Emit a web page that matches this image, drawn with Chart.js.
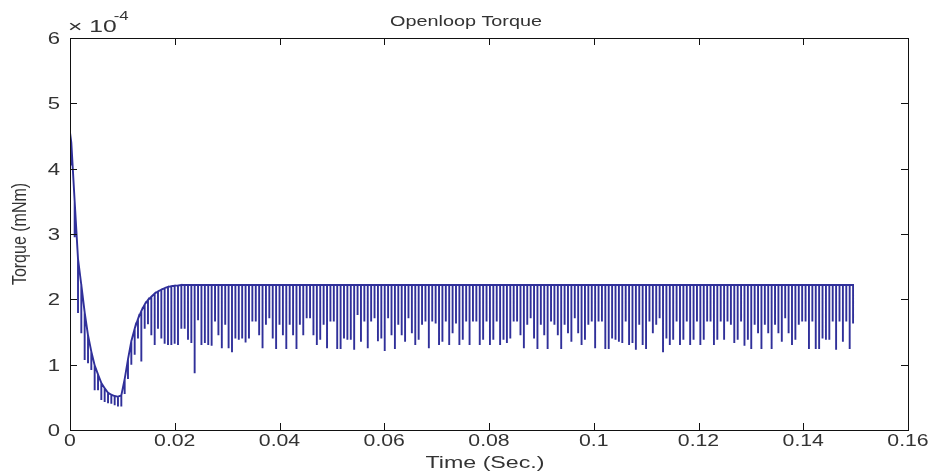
<!DOCTYPE html>
<html>
<head>
<meta charset="utf-8">
<script src="https://cdn.jsdelivr.net/npm/chart.js@4/dist/chart.umd.min.js"></script>
<style>
  html, body { margin: 0; padding: 0; background: #fff; }
</style>
</head>
<body>
<canvas id="torqueChart" width="932" height="473"></canvas>
<script>
// axis ticks
const timeTicks = [0, 0.02, 0.04, 0.06, 0.08, 0.1, 0.12, 0.14, 0.16];
const torqueTicks = [0, 1, 2, 3, 4, 5, 6];

// torque in units of 1e-4 mNm
const startTorque = 4.55;

// start-up transient: switching instants, value before the switch, value at the dip
const transientTime = [0.00025, 0.00089, 0.00153, 0.00216, 0.00280, 0.00344, 0.00407, 0.00471,
  0.00535, 0.00598, 0.00662, 0.00726, 0.00789, 0.00853, 0.00916, 0.00980, 0.01044, 0.01107,
  0.01171, 0.01235, 0.01298, 0.01362, 0.01426, 0.01489, 0.01553, 0.01617, 0.01680, 0.01744,
  0.01807, 0.01871, 0.01935, 0.01998, 0.02062, 0.02126, 0.02189, 0.02253, 0.02317, 0.02380];
const transientTop = [4.40, 3.50, 2.62, 2.22, 1.80, 1.45, 1.20, 0.99, 0.85, 0.72, 0.64, 0.57,
  0.54, 0.52, 0.51, 0.53, 0.78, 1.08, 1.36, 1.55, 1.70, 1.82, 1.92, 1.99, 2.04, 2.09, 2.12,
  2.15, 2.17, 2.19, 2.20, 2.21, 2.21, 2.22, 2.22, 2.22, 2.22, 2.22];
const transientLow = [4.05, 2.95, 1.79, 1.48, 1.07, 1.02, 0.92, 0.61, 0.61, 0.46, 0.43, 0.41,
  0.40, 0.38, 0.36, 0.36, 0.55, 0.78, 1.00, 1.15, 1.40, 1.05, 1.55, 1.62, 1.45, 1.30, 1.55,
  1.40, 1.32, 1.30, 1.30, 1.32, 1.30, 1.55, 1.55, 1.38, 1.33, 0.87];

// steady state: one dip per switching period
const steadyStart = 0.02445;
const pwmPeriod = 0.000648;
const steadyTop = 2.22;
const steadyLow = [
  1.68, 1.30, 1.33, 1.30, 1.29, 1.66, 1.45, 1.25, 1.61, 1.25, 1.19, 1.40, 1.38, 1.40, 1.34, 1.40,
  1.66, 1.66, 1.45, 1.25, 1.61, 1.71, 1.40, 1.24, 1.61, 1.45, 1.24, 1.61, 1.45, 1.24, 1.61, 1.45,
  1.71, 1.71, 1.45, 1.30, 1.38, 1.61,
  1.25, 1.66, 1.66, 1.24, 1.24, 1.40, 1.38, 1.38, 1.23, 1.76, 1.35, 1.66, 1.25, 1.66, 1.71, 1.36,
  1.40, 1.21, 1.71, 1.45, 1.24, 1.61, 1.45, 1.35, 1.71, 1.48, 1.30, 1.38, 1.61, 1.66, 1.25, 1.66,
  1.63, 1.30, 1.35, 1.66, 1.30, 1.48,
  1.63, 1.30, 1.38, 1.66, 1.30, 1.66, 1.66, 1.30, 1.38, 1.66, 1.30, 1.38, 1.66, 1.30, 1.38, 1.33,
  1.40, 1.66, 1.66, 1.45, 1.25, 1.61, 1.71, 1.40, 1.24, 1.61, 1.45, 1.24, 1.66, 1.61, 1.45, 1.24,
  1.61, 1.48, 1.35, 1.71, 1.48, 1.30, 1.38, 1.61,
  1.66, 1.25, 1.66, 1.66, 1.24, 1.24, 1.40, 1.38, 1.35, 1.33, 1.66, 1.30, 1.33, 1.23, 1.61, 1.30,
  1.24, 1.66, 1.48, 1.61, 1.71, 1.19, 1.40, 1.30, 1.38, 1.66, 1.30, 1.38, 1.66, 1.30, 1.38, 1.66,
  1.30, 1.38, 1.66, 1.66, 1.30, 1.38, 1.66,
  1.38, 1.66, 1.61, 1.33, 1.38, 1.66, 1.29, 1.38, 1.24, 1.61, 1.48, 1.24, 1.61, 1.48, 1.24, 1.61,
  1.48, 1.35, 1.71, 1.48, 1.30, 1.38, 1.61, 1.66, 1.66, 1.24, 1.66, 1.24, 1.24, 1.40, 1.38, 1.38,
  1.66, 1.23, 1.66, 1.35, 1.66, 1.24, 1.63
];

// build the trace: each switching event is a vertical drop and return
const points = [{ x: 0, y: startTorque }];
transientTime.forEach((t, i) => {
  points.push({ x: t, y: transientTop[i] }, { x: t, y: transientLow[i] }, { x: t, y: transientTop[i] });
});
steadyLow.forEach((low, i) => {
  const t = steadyStart + i * pwmPeriod;
  points.push({ x: t, y: steadyTop }, { x: t, y: low }, { x: t, y: steadyTop });
});

const FONT = '"Liberation Sans", Arial, Helvetica, sans-serif';
const TEXT_COLOR = '#333';

// the source figure is stretched sideways, so text gets a horizontal scale
function wideText(ctx, text, x, y, align, size, sx) {
  ctx.save();
  ctx.font = size + 'px ' + FONT;
  ctx.fillStyle = TEXT_COLOR;
  ctx.translate(x, y);
  ctx.scale(sx, 1);
  ctx.textAlign = align;
  ctx.textBaseline = 'alphabetic';
  ctx.fillText(text, 0, 0);
  const w = ctx.measureText(text).width * sx;
  ctx.restore();
  return w;
}

function timeLabel(v) {
  return v === 0 ? '0' : String(+v.toFixed(2));
}

const matlabAxes = {
  id: 'matlabAxes',
  afterDraw(chart) {
    const { ctx, chartArea: a, scales: { x, y } } = chart;
    const tickLen = 7;
    ctx.save();
    ctx.strokeStyle = '#111';
    ctx.lineWidth = 1;
    ctx.strokeRect(Math.round(a.left) + 0.5, Math.round(a.top) + 0.5,
      Math.round(a.right - a.left), Math.round(a.bottom - a.top));
    ctx.beginPath();
    x.ticks.forEach(tk => {
      const px = Math.round(x.getPixelForValue(tk.value)) + 0.5;
      ctx.moveTo(px, a.bottom); ctx.lineTo(px, a.bottom - tickLen);
      ctx.moveTo(px, a.top); ctx.lineTo(px, a.top + tickLen);
    });
    y.ticks.forEach(tk => {
      const py = Math.round(y.getPixelForValue(tk.value)) + 0.5;
      ctx.moveTo(a.left, py); ctx.lineTo(a.left + tickLen, py);
      ctx.moveTo(a.right, py); ctx.lineTo(a.right - tickLen, py);
    });
    ctx.stroke();
    ctx.restore();

    // tick labels
    x.ticks.forEach(tk => {
      wideText(ctx, timeLabel(tk.value), x.getPixelForValue(tk.value), a.bottom + 16, 'center', 17, 1.25);
    });
    y.ticks.forEach(tk => {
      wideText(ctx, String(tk.value), a.left - 10, y.getPixelForValue(tk.value) + 6, 'right', 17, 1.3);
    });

    // titles
    wideText(ctx, 'Openloop Torque', 466, 26, 'center', 15, 1.32);
    wideText(ctx, 'Time (Sec.)', 485, 468, 'center', 16, 1.45);

    ctx.save();
    ctx.font = '16px ' + FONT;
    ctx.fillStyle = TEXT_COLOR;
    ctx.translate(26, (a.top + a.bottom) / 2);
    ctx.rotate(-Math.PI / 2);
    ctx.scale(1, 1.3);
    ctx.textAlign = 'center';
    ctx.fillText('Torque (mNm)', 0, 0);
    ctx.restore();

    // exponent label
    const w = wideText(ctx, '\u00d7 10', a.left - 2, 32, 'left', 17, 1.45);
    wideText(ctx, '-4', a.left - 5 + w, 20, 'left', 12, 1.4);
  }
};

new Chart(document.getElementById('torqueChart').getContext('2d'), {
  type: 'line',
  data: {
    datasets: [{
      label: 'Torque',
      data: points,
      borderColor: '#30309a',
      borderWidth: 1.9,
      pointRadius: 0,
      tension: 0,
      fill: false
    }]
  },
  options: {
    responsive: false,
    animation: false,
    layout: {
      padding: { top: 38, right: 24, left: 0, bottom: 0 }
    },
    plugins: {
      legend: { display: false },
      tooltip: { enabled: false },
      title: { display: false }
    },
    scales: {
      x: {
        type: 'linear',
        min: 0,
        max: 0.16,
        afterBuildTicks: s => { s.ticks = timeTicks.map(v => ({ value: v })); },
        afterFit: s => { s.height = 43; },
        ticks: { display: false },
        grid: { display: false },
        border: { display: false }
      },
      y: {
        min: 0,
        max: 6,
        afterBuildTicks: s => { s.ticks = torqueTicks.map(v => ({ value: v })); },
        afterFit: s => { s.width = 70; },
        ticks: { display: false },
        grid: { display: false },
        border: { display: false }
      }
    }
  },
  plugins: [matlabAxes]
});
</script>
</body>
</html>
